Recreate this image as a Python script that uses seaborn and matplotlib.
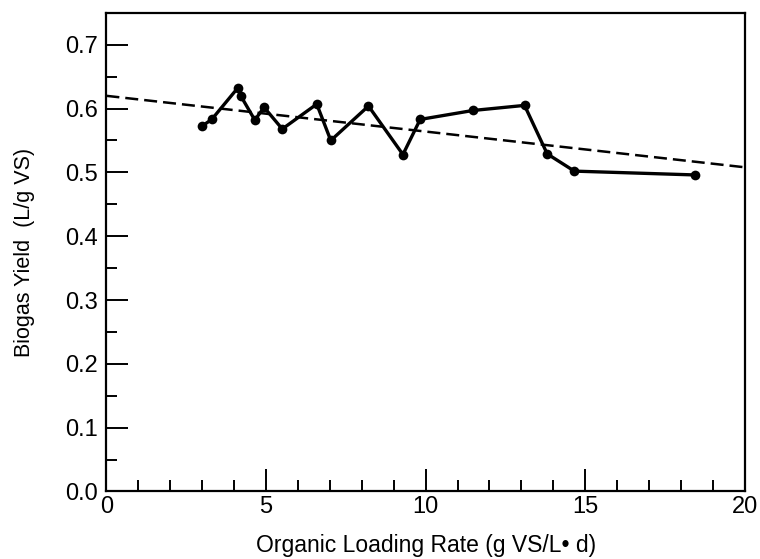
import matplotlib
matplotlib.use("Agg")
import matplotlib.pyplot as plt
import seaborn as sns
import pandas as pd
from matplotlib.ticker import MultipleLocator

# data
olr = [2.98, 3.30, 4.11, 4.22, 4.65, 4.94, 5.51, 6.59, 7.03, 8.21, 9.29, 9.83,
       11.48, 13.10, 13.81, 14.66, 18.45]
yield_ = [0.572, 0.583, 0.632, 0.619, 0.582, 0.602, 0.568, 0.607, 0.550, 0.604,
          0.528, 0.583, 0.597, 0.605, 0.529, 0.502, 0.496]
trend_x = [0, 20]
trend_y = [0.620, 0.508]

sns.set_style("ticks")
plt.rcParams['font.family'] = ['Liberation Sans', 'DejaVu Sans']
plt.rcParams['text.color'] = 'black'
plt.rcParams['axes.labelcolor'] = 'black'

fig = plt.figure(figsize=(7.6, 5.59), dpi=100)
ax = fig.add_axes([0.140, 0.1208, 0.840, 0.8562])

df = pd.DataFrame({"x": olr, "y": yield_})
sns.lineplot(data=df, x="x", y="y", ax=ax, color="black", linewidth=2.4,
             marker="o", markersize=7, markeredgewidth=0, sort=False)
tdf = pd.DataFrame({"x": trend_x, "y": trend_y})
sns.lineplot(data=tdf, x="x", y="y", ax=ax, color="black", linewidth=1.8,
             linestyle=(0, (5.2, 2.4)))

ax.set_xlim(0, 20)
ax.set_ylim(0, 0.75)
ax.xaxis.set_major_locator(MultipleLocator(5))
ax.xaxis.set_minor_locator(MultipleLocator(1))
ax.yaxis.set_minor_locator(MultipleLocator(0.05))
ax.set_yticks([0.0, 0.1, 0.2, 0.3, 0.4, 0.5, 0.6, 0.7])
ax.set_yticklabels(["0.0", "0.1", "0.2", "0.3", "0.4", "0.5", "0.6", "0.7"])

ax.tick_params(axis="both", which="major", direction="in", length=16, width=1.4,
               labelsize=17, colors="black")
ax.tick_params(axis="both", which="minor", direction="in", length=8, width=1.4,
               colors="black")
ax.tick_params(axis="y", which="major", pad=6)
ax.tick_params(axis="x", which="major", pad=3)
for s in ax.spines.values():
    s.set_linewidth(1.6)
    s.set_color("black")

ax.set_xlabel("Organic Loading Rate (g VS/L\u2022 d)", fontsize=16.5, labelpad=12,
              color="black")
ax.set_ylabel("Biogas Yield  (L/g VS)", fontsize=15.5, labelpad=22, color="black")

fig.savefig("out.png", dpi=100)
